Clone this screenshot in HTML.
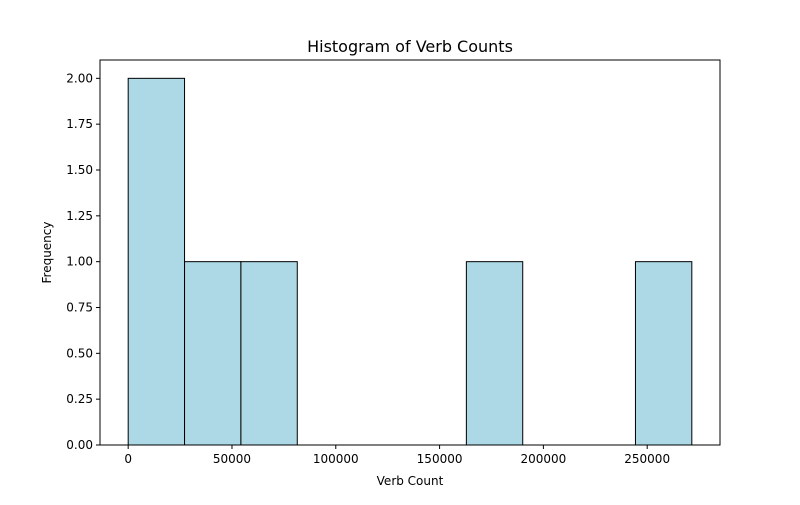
<!DOCTYPE html>
<html><head><meta charset="utf-8"><style>
body{margin:0;background:#fff;font-family:"Liberation Sans","DejaVu Sans",sans-serif}
</style></head><body>
<svg id="chart" width="800" height="500" xmlns="http://www.w3.org/2000/svg">
<rect width="800" height="500" fill="#fff"/>
<text x="410" y="52" font-size="16" text-anchor="middle" fill="#000" font-family="DejaVu Sans, sans-serif">Histogram of Verb Counts</text>
<text x="410" y="485" font-size="12" text-anchor="middle" fill="#000" font-family="DejaVu Sans, sans-serif">Verb Count</text>
<text transform="translate(51,252.5) rotate(-90)" font-size="12" text-anchor="middle" fill="#000" font-family="DejaVu Sans, sans-serif">Frequency</text>
<g id="bars"></g><g id="xt"></g><g id="yt"></g>
<rect x="100" y="60" width="620" height="385" fill="none" stroke="#000" stroke-width="1"/>
</svg>
<script>
const binStart = 0;
const binWidth = 27150;
const counts = [2,1,1,0,0,0,1,0,0,1];
const xTicks = [0,50000,100000,150000,200000,250000];
const yTicks = [0,0.25,0.5,0.75,1.0,1.25,1.5,1.75,2.0];
const L=100,R=720,T=60,B=445;
const xMin=-13575,xMax=285075,yMax=2.1;
const sx=v=>L+(v-xMin)/(xMax-xMin)*(R-L);
const sy=v=>B-v/yMax*(B-T);
const NS="http://www.w3.org/2000/svg";
function mk(t,a,p){const e=document.createElementNS(NS,t);for(const k in a)e.setAttribute(k,a[k]);p.appendChild(e);return e;}
const bars=document.getElementById('bars');
counts.forEach((c,i)=>{if(!c)return;const x0=sx(binStart+i*binWidth),x1=sx(binStart+(i+1)*binWidth);
const r=mk('rect',{x:x0,y:sy(c),width:x1-x0,height:sy(0)-sy(c),fill:'#add8e6',stroke:'#000','stroke-width':1},bars);

});
const xt=document.getElementById('xt');
xTicks.forEach(v=>{const x=sx(v);mk('line',{x1:x,x2:x,y1:B,y2:B+4,stroke:'#000'},xt);
const t=mk('text',{x:x,y:B+18,'font-size':12,'text-anchor':'middle','font-family':'DejaVu Sans, sans-serif'},xt);t.textContent=v;

});
const yt=document.getElementById('yt');
yTicks.forEach(v=>{const y=sy(v);mk('line',{x1:L-4,x2:L,y1:y,y2:y,stroke:'#000'},yt);
const t=mk('text',{x:L-7,y:y+4,'font-size':12,'text-anchor':'end','font-family':'DejaVu Sans, sans-serif'},yt);t.textContent=v.toFixed(2);

});
</script>
</body></html>
